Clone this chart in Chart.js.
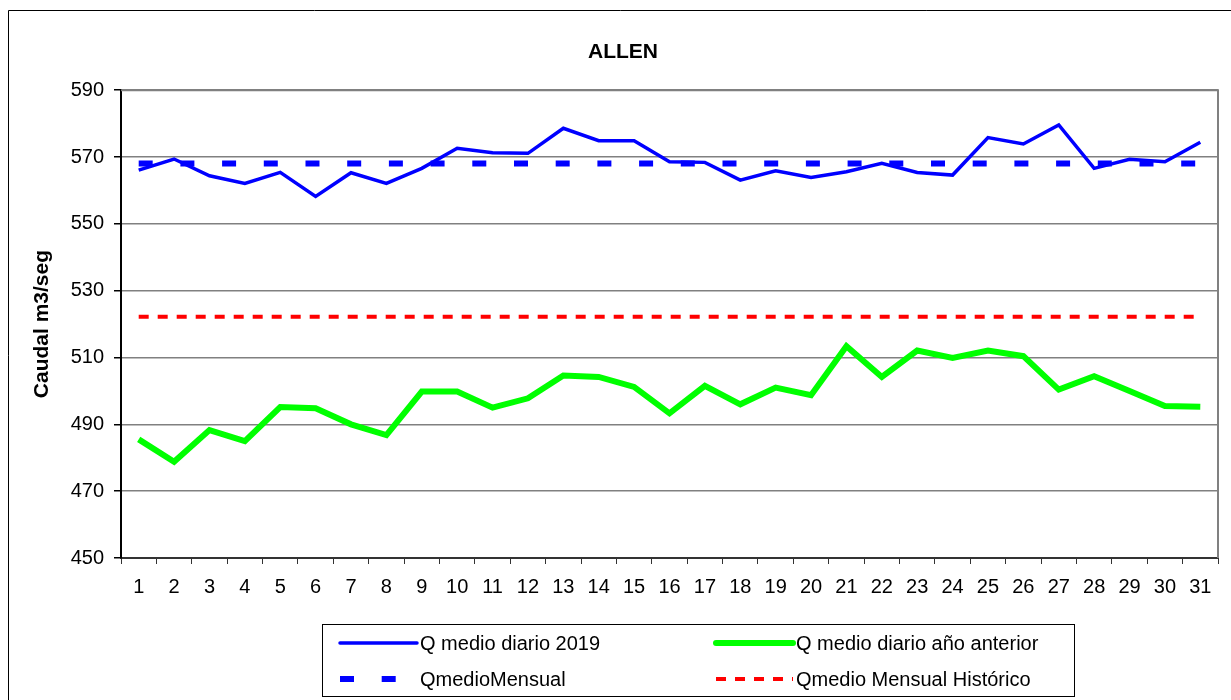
<!DOCTYPE html>
<html>
<head>
<meta charset="utf-8">
<script src="https://cdn.jsdelivr.net/npm/chart.js@4/dist/chart.umd.min.js"></script>
<style>
  html, body { margin: 0; padding: 0; background: #fff; }
  #wrap { width: 1231px; height: 700px; }
</style>
</head>
<body>
<div id="wrap"><canvas id="grafico"></canvas></div>
<script>
// dias del mes
const dias = ['1','2','3','4','5','6','7','8','9','10','11','12','13','14','15','16',
              '17','18','19','20','21','22','23','24','25','26','27','28','29','30','31'];

// caudal medio diario 2019 (m3/seg)
const qDiario2019 = [566.1, 569.4, 564.4, 562.1, 565.4, 558.2, 565.3, 562.1, 566.6, 572.6,
                     571.3, 571.1, 578.6, 574.9, 574.9, 568.6, 568.4, 563.1, 565.9, 563.9,
                     565.6, 568.1, 565.4, 564.6, 575.8, 573.9, 579.6, 566.6, 569.3, 568.6, 574.4];

// caudal medio diario año anterior
const qDiarioAnterior = [485.5, 478.8, 488.3, 485.0, 495.2, 494.8, 490.0, 486.8, 499.8, 499.8,
                         495.0, 497.8, 504.6, 504.2, 501.2, 493.3, 501.5, 496.0, 501.0, 498.7,
                         513.4, 504.2, 512.1, 509.9, 512.1, 510.4, 500.4, 504.4, 500.0, 495.5, 495.3];

// medio mensual (constante en todo el mes)
const qMedioMensual = [568.1, 568.1, 568.1, 568.1, 568.1, 568.1, 568.1, 568.1, 568.1, 568.1,
                       568.1, 568.1, 568.1, 568.1, 568.1, 568.1, 568.1, 568.1, 568.1, 568.1,
                       568.1, 568.1, 568.1, 568.1, 568.1, 568.1, 568.1, 568.1, 568.1, 568.1, 568.1];

// medio mensual historico
const qMedioHistorico = [522.2, 522.2, 522.2, 522.2, 522.2, 522.2, 522.2, 522.2, 522.2, 522.2,
                         522.2, 522.2, 522.2, 522.2, 522.2, 522.2, 522.2, 522.2, 522.2, 522.2,
                         522.2, 522.2, 522.2, 522.2, 522.2, 522.2, 522.2, 522.2, 522.2, 522.2, 522.2];

const FUENTE = '"Liberation Sans", Arial, sans-serif';

// marco exterior + borde del area + leyenda en recuadro (2 columnas)
const extras = {
    id: 'extras',
    afterDraw(chart) {
        const c = chart.ctx;
        const a = chart.chartArea;
        c.save();
        // marco exterior
        c.strokeStyle = '#000';
        c.lineWidth = 1;
        c.beginPath();
        c.moveTo(8.5, 710);
        c.lineTo(8.5, 10.5);
        c.lineTo(1240, 10.5);
        c.stroke();
        // borde superior / derecho del area de trazado
        c.strokeStyle = '#808080';
        c.lineWidth = 2;
        c.beginPath();
        c.moveTo(a.left, a.top);
        c.lineTo(a.right, a.top);
        c.lineTo(a.right, a.bottom);
        c.stroke();

        // leyenda
        const box = { x: 322.5, y: 624.5, w: 752, h: 72 };
        c.strokeStyle = '#000';
        c.lineWidth = 1;
        c.strokeRect(box.x, box.y, box.w, box.h);
        const cols = [340, 716];
        const rows = [643, 679];
        const largo = 77;
        c.font = '20px ' + FUENTE;
        c.textBaseline = 'middle';
        c.fillStyle = '#000';
        chart.data.datasets.forEach((ds, i) => {
            const x = cols[i % 2];
            const y = rows[Math.floor(i / 2)];
            c.strokeStyle = ds.borderColor;
            c.lineWidth = ds.borderWidth;
            c.setLineDash(ds.borderDash || []);
            c.lineCap = ds.borderDash ? 'butt' : 'round';
            c.beginPath();
            c.moveTo(x, y);
            c.lineTo(x + largo, y);
            c.stroke();
            c.setLineDash([]);
            c.fillText(ds.label, x + largo + 3, y + 1);
        });
        c.restore();
    }
};

const ctx = document.getElementById('grafico').getContext('2d');

new Chart(ctx, {
    type: 'line',
    data: {
        labels: dias,
        datasets: [{
            label: 'Q medio diario 2019',
            data: qDiario2019,
            borderColor: '#0000FF',
            borderWidth: 3.5,
            pointRadius: 0,
            tension: 0
        }, {
            label: 'Q medio diario año anterior',
            data: qDiarioAnterior,
            borderColor: '#00FF00',
            borderWidth: 6,
            pointRadius: 0,
            tension: 0
        }, {
            label: 'QmedioMensual',
            data: qMedioMensual,
            borderColor: '#0000FF',
            borderWidth: 6,
            borderDash: [14, 27.7],
            borderCapStyle: 'butt',
            pointRadius: 0
        }, {
            label: 'Qmedio Mensual Histórico',
            data: qMedioHistorico,
            borderColor: '#FF0000',
            borderWidth: 4,
            borderDash: [10, 9],
            borderCapStyle: 'butt',
            pointRadius: 0
        }]
    },
    options: {
        responsive: true,
        maintainAspectRatio: false,
        animation: false,
        layout: {
            padding: { left: 28, right: 13, top: 0, bottom: 100 }
        },
        plugins: {
            legend: { display: false },
            tooltip: { enabled: false },
            title: {
                display: true,
                text: 'ALLEN',
                color: '#000',
                font: { family: FUENTE, size: 21, weight: 'bold' },
                padding: { top: 40, bottom: 25 }
            }
        },
        scales: {
            x: {
                offset: true,
                grid: {
                    offset: true,
                    drawOnChartArea: false,
                    drawTicks: true,
                    tickLength: 6,
                    tickColor: '#333'
                },
                border: { color: '#333', width: 2 },
                ticks: {
                    color: '#000',
                    font: { family: FUENTE, size: 20 },
                    padding: 11,
                    maxRotation: 0,
                    autoSkip: false
                },
                afterFit(scale) { scale.height = 42; }
            },
            y: {
                min: 450,
                max: 590,
                ticks: {
                    stepSize: 20,
                    color: '#000',
                    font: { family: FUENTE, size: 20 },
                    padding: 10
                },
                grid: {
                    color: '#808080',
                    lineWidth: 1.5,
                    tickLength: 7,
                    tickColor: '#000'
                },
                border: { color: '#000', width: 2 },
                title: {
                    display: true,
                    text: 'Caudal m3/seg',
                    color: '#000',
                    font: { family: FUENTE, size: 21, weight: 'bold' },
                    padding: { top: 2, bottom: 0 }
                },
                afterFit(scale) { scale.width = 93; }
            }
        }
    },
    plugins: [extras]
});
</script>
</body>
</html>
